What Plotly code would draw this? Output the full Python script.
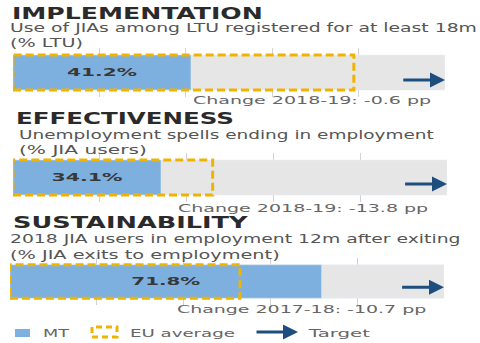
import json
import plotly.graph_objects as go

# ---------------- data ----------------
panels = ["IMPLEMENTATION", "EFFECTIVENESS", "SUSTAINABILITY"]
subtitle_line1 = ["Use of JIAs among LTU registered for at least 18m",
                  "Unemployment spells ending in employment",
                  "2018 JIA users in employment 12m after exiting"]
subtitle_line2 = ["(% LTU)", "(% JIA users)", "(% JIA exits to employment)"]
mt_values = [41.2, 34.1, 71.8]
eu_values = [78.9, 46.0, 53.0]
change_labels = ["Change 2018-19: -0.6 pp", "Change 2018-19: -13.8 pp",
                 "Change 2017-18: -10.7 pp"]
target_from = [90, 90, 90]
target_to = [100, 100, 100]
scale_max = 100
legend_labels = ["MT", "EU average", "Target"]

# ---------------- styles ----------------
W, H = 480, 343
BLUE = "#7eb0df"
GOLD = "#f0b400"
NAVY = "#1d4e7d"
GRAY = "#e6e6e6"
GRID = "#d2d2d2"
FONT = "DejaVu Sans"

x_domains = [(13, 445), (13, 447), (10, 444)]
y_domains = [(48, 97), (153, 202), (258, 305)]
arrow_y = [-0.153, -0.133, -0.123]
title_pos = [(11, 13.8), (15, 118.8), (12, 223.3)]
sub1_pos = [(8.5, 28.2), (18, 134.9), (8.5, 239.2)]
sub2_pos = [(8.5, 43.0), (18, 150), (8.5, 255)]
change_pos = [(192, 99.5), (177, 207.7), (176, 308.7)]
BARW = 0.714

# target widths used to stretch the text horizontally
widths = {
    "IMPLEMENTATION": 251, "EFFECTIVENESS": 218, "SUSTAINABILITY": 236,
    subtitle_line1[0]: 467, subtitle_line1[1]: 416, subtitle_line1[2]: 451,
    subtitle_line2[0]: 73, subtitle_line2[1]: 128, subtitle_line2[2]: 270,
    change_labels[0]: 239, change_labels[1]: 251, change_labels[2]: 250,
    "MT": 27, "EU average": 105, "Target": 63,
    "41.2%": 70, "34.1%": 71, "71.8%": 69,
}

fig = go.Figure()
annotations = []
shapes = []


def py(v):
    return 1 - v / H


def txt(s, pos, size, color, bold=False):
    annotations.append(dict(xref="paper", yref="paper", x=pos[0] / W, y=py(pos[1]),
                            xanchor="left", yanchor="middle", align="left",
                            text=s, showarrow=False, borderpad=0,
                            font=dict(family=FONT, size=size, color=color,
                                      weight="bold" if bold else "normal")))


for i in range(3):
    sfx = "" if i == 0 else str(i + 1)
    xa, ya = "x" + sfx, "y" + sfx
    fig.add_trace(go.Bar(x=[scale_max], y=[0], orientation="h", marker_color=GRAY,
                         width=BARW, xaxis=xa, yaxis=ya, hoverinfo="skip",
                         showlegend=False))
    fig.add_trace(go.Bar(x=[mt_values[i]], y=[0], orientation="h", marker_color=BLUE,
                         width=BARW, xaxis=xa, yaxis=ya, text=[f"{mt_values[i]:.1f}%"],
                         textposition="inside", insidetextanchor="middle", textangle=0,
                         textfont=dict(family=FONT, size=11, color="#383838", weight="bold"),
                         showlegend=False))
    shapes.append(dict(type="rect", xref=xa, yref=ya, x0=0, x1=eu_values[i],
                       y0=-BARW / 2, y1=BARW / 2,
                       line=dict(color=GOLD, width=3, dash="8px,4px"), layer="above"))
    annotations.append(dict(xref=xa, yref=ya, axref=xa, ayref=ya,
                            x=target_to[i], y=arrow_y[i], ax=target_from[i], ay=arrow_y[i],
                            text="", showarrow=True, arrowhead=2, arrowsize=1,
                            arrowwidth=3, arrowcolor=NAVY, standoff=0, startstandoff=0))
    xd = x_domains[i]
    yd = y_domains[i]
    fig.update_layout(**{
        "xaxis" + sfx: dict(domain=[xd[0] / W, xd[1] / W], range=[0, scale_max], dtick=20,
                            showgrid=True, gridcolor=GRID, gridwidth=1, zeroline=False,
                            showticklabels=False, fixedrange=True, anchor=ya),
        "yaxis" + sfx: dict(domain=[py(yd[1]), py(yd[0])], range=[-0.5, 0.5],
                            showgrid=False, zeroline=False, showticklabels=False,
                            fixedrange=True, anchor=xa),
    })

    txt(panels[i], title_pos[i], 15.5, "#2a2a2a", True)
    txt(subtitle_line1[i], sub1_pos[i], 11.5, "#555555")
    txt(subtitle_line2[i], sub2_pos[i], 11.5, "#555555")
    txt(change_labels[i], change_pos[i], 10.5, "#666666")

# legend (drawn by hand)
LEG_Y = 333
shapes.append(dict(type="rect", xref="paper", yref="paper", x0=15 / W, x1=30 / W,
                   y0=py(337), y1=py(329), fillcolor=BLUE, line=dict(width=0)))
shapes.append(dict(type="rect", xref="paper", yref="paper", x0=92 / W, x1=117 / W,
                   y0=py(337), y1=py(327), line=dict(color=GOLD, width=3, dash="6px,4px")))
annotations.append(dict(xref="paper", yref="paper", x=298 / W, y=py(332), ax=-43, ay=0,
                        text="", showarrow=True, arrowhead=2, arrowsize=1, arrowwidth=3,
                        arrowcolor=NAVY, standoff=0))
for lab, lx in zip(legend_labels, [42, 129, 306]):
    annotations.append(dict(xref="paper", yref="paper", x=lx / W, y=py(LEG_Y),
                            xanchor="left", yanchor="middle", align="left", text=lab,
                            showarrow=False, borderpad=0,
                            font=dict(family=FONT, size=10.5, color="#666666")))

fig.update_layout(width=W, height=H, margin=dict(l=0, r=0, t=0, b=0),
                  paper_bgcolor="white", plot_bgcolor="rgba(0,0,0,0)",
                  barmode="overlay", showlegend=False,
                  annotations=annotations, shapes=shapes,
                  font=dict(family=FONT))

js = """
document.body.style.margin = '0';
document.body.style.overflow = 'hidden';
var gd = document.getElementById('{plot_id}');
var TW = %s;
function stretchText(){
  gd.querySelectorAll('text').forEach(function(t){
    var s = t.textContent;
    if (!(s in TW)) return;
    var g = t.parentNode;
    if (!(g.getAttribute && g.getAttribute('data-stretch'))) {
      var ng = document.createElementNS('http://www.w3.org/2000/svg', 'g');
      ng.setAttribute('data-stretch', '1');
      g.insertBefore(ng, t);
      ng.appendChild(t);
      g = ng;
    }
    g.removeAttribute('transform');
    var bb = g.getBBox();
    if (!bb.width) return;
    var k = TW[s] / bb.width;
    var anchor = t.getAttribute('text-anchor');
    var ax = (anchor === 'middle') ? bb.x + bb.width / 2 : bb.x;
    g.setAttribute('transform', 'translate(' + ax + ',0) scale(' + k + ',1) translate(' + (-ax) + ',0)');
  });
}
stretchText();
gd.on('plotly_afterplot', stretchText);
""" % json.dumps(widths)

fig.write_html("out.html", post_script=js, config={"responsive": False, "displayModeBar": False})
